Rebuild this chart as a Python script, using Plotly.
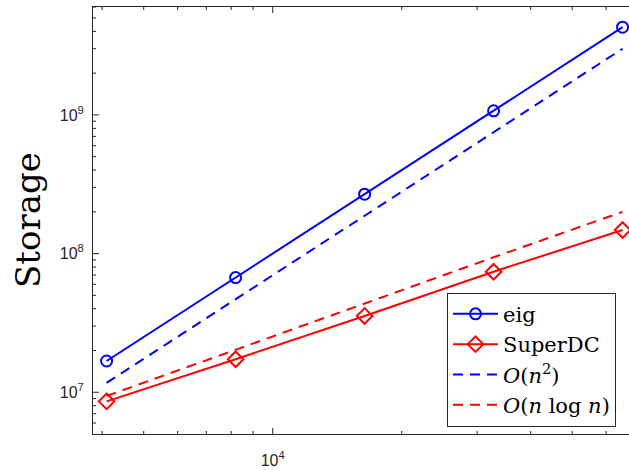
import plotly.graph_objects as go
import math

n_vals = [4096, 8192, 16384, 32768, 65536]
eig_storage = [1.68e7, 6.71e7, 2.68e8, 1.07e9, 4.29e9]
superdc_storage = [8.6e6, 1.73e7, 3.55e7, 7.4e7, 1.48e8]
ref_n2 = [1.17e7, 4.7e7, 1.88e8, 7.5e8, 3.0e9]
ref_nlogn = [9.4e6, 2.03e7, 4.38e7, 9.4e7, 2.0e8]

x_major = [1e4]
x_major_text = ["10<sup>4</sup>"]
y_major = [1e7, 1e8, 1e9]
y_major_text = ["10<sup>7</sup>", "10<sup>8</sup>", "10<sup>9</sup>"]
x_minor = [4000, 5000, 6000, 7000, 8000, 9000, 20000, 30000, 40000, 50000, 60000]
y_minor = [6e6, 7e6, 8e6, 9e6,
           2e7, 3e7, 4e7, 5e7, 6e7, 7e7, 8e7, 9e7,
           2e8, 3e8, 4e8, 5e8, 6e8, 7e8, 8e8, 9e8,
           2e9, 3e9, 4e9, 5e9, 6e9]

BLUE = "#0000FF"
RED = "#FF0000"
AX = "#262626"
TK = "#262626"
SERIF = "DejaVu Serif, Liberation Serif, serif"
SANS = "Liberation Sans, Arial, sans-serif"

XR = [3.5806, 4.8315]
YR = [math.log10(5e6), math.log10(6e9)]
MAJ_LEN, MIN_LEN = 6, 3

fig = go.Figure()
fig.add_trace(go.Scatter(
    x=n_vals, y=eig_storage, name="eig", mode="lines+markers",
    line=dict(color=BLUE, width=2),
    marker=dict(symbol="circle-open", size=11, color=BLUE, line=dict(width=2, color=BLUE))))
fig.add_trace(go.Scatter(
    x=n_vals, y=superdc_storage, name="SuperDC", mode="lines+markers",
    line=dict(color=RED, width=2),
    marker=dict(symbol="diamond-open", size=12, color=RED, line=dict(width=2, color=RED))))
fig.add_trace(go.Scatter(
    x=n_vals, y=ref_n2, name="<i>O</i>(<i>n</i><sup>2</sup>)", mode="lines",
    line=dict(color=BLUE, width=2, dash="10px,7px")))
fig.add_trace(go.Scatter(
    x=n_vals, y=ref_nlogn, name="<i>O</i>(<i>n</i> log <i>n</i>)", mode="lines",
    line=dict(color=RED, width=2, dash="10px,7px")))

# inside tick marks, placed through the axes (data coords) with pixel lengths
shapes = []
for vals, ln in ((x_major, MAJ_LEN), (x_minor, MIN_LEN)):
    for v in vals:
        for anchor, sign in ((0, 1), (1, -1)):
            shapes.append(dict(type="line", xref="x", x0=v, x1=v,
                               yref="paper", ysizemode="pixel", yanchor=anchor,
                               y0=0, y1=sign * ln, line=dict(color=TK, width=1),
                               layer="above"))
for vals, ln in ((y_major, MAJ_LEN), (y_minor, MIN_LEN)):
    for v in vals:
        shapes.append(dict(type="line", yref="y", y0=v, y1=v,
                           xref="paper", xsizemode="pixel", xanchor=0,
                           x0=0, x1=ln, line=dict(color=TK, width=1),
                           layer="above"))

W, H = 629, 470
L, R, T, B = 93, 0, 7, 36

fig.update_layout(
    width=W, height=H,
    margin=dict(l=L, r=R, t=T, b=B),
    paper_bgcolor="white", plot_bgcolor="white",
    showlegend=True,
    shapes=shapes,
    legend=dict(
        x=(447 - L) / (W - L - R), y=(434.3 - 293) / (H - T - B),
        xanchor="left", yanchor="top",
        bgcolor="white", bordercolor=AX, borderwidth=1,
        font=dict(family=SERIF, size=21, color="black"),
        itemwidth=45,
    ),
    annotations=[dict(
        text="Storage", textangle=-90, xref="paper", yref="paper",
        x=(27.5 - L) / (W - L - R), y=0.5, xanchor="center", yanchor="middle",
        showarrow=False, font=dict(family=SERIF, size=34, color="black"))],
    xaxis=dict(
        type="log", range=XR,
        showgrid=False, zeroline=False,
        showline=True, linecolor=AX, linewidth=1, mirror=True,
        ticks="", tickmode="array", tickvals=x_major, ticktext=x_major_text,
        ticklabelstandoff=12,
        tickfont=dict(family=SANS, size=16, color=AX),
    ),
    yaxis=dict(
        type="log", range=YR,
        showgrid=False, zeroline=False,
        showline=True, linecolor=AX, linewidth=1, mirror=False,
        ticks="", tickmode="array", tickvals=y_major, ticktext=y_major_text,
        ticklabelstandoff=5,
        tickfont=dict(family=SANS, size=16, color=AX),
    ),
)

fig.write_html("out.html")
